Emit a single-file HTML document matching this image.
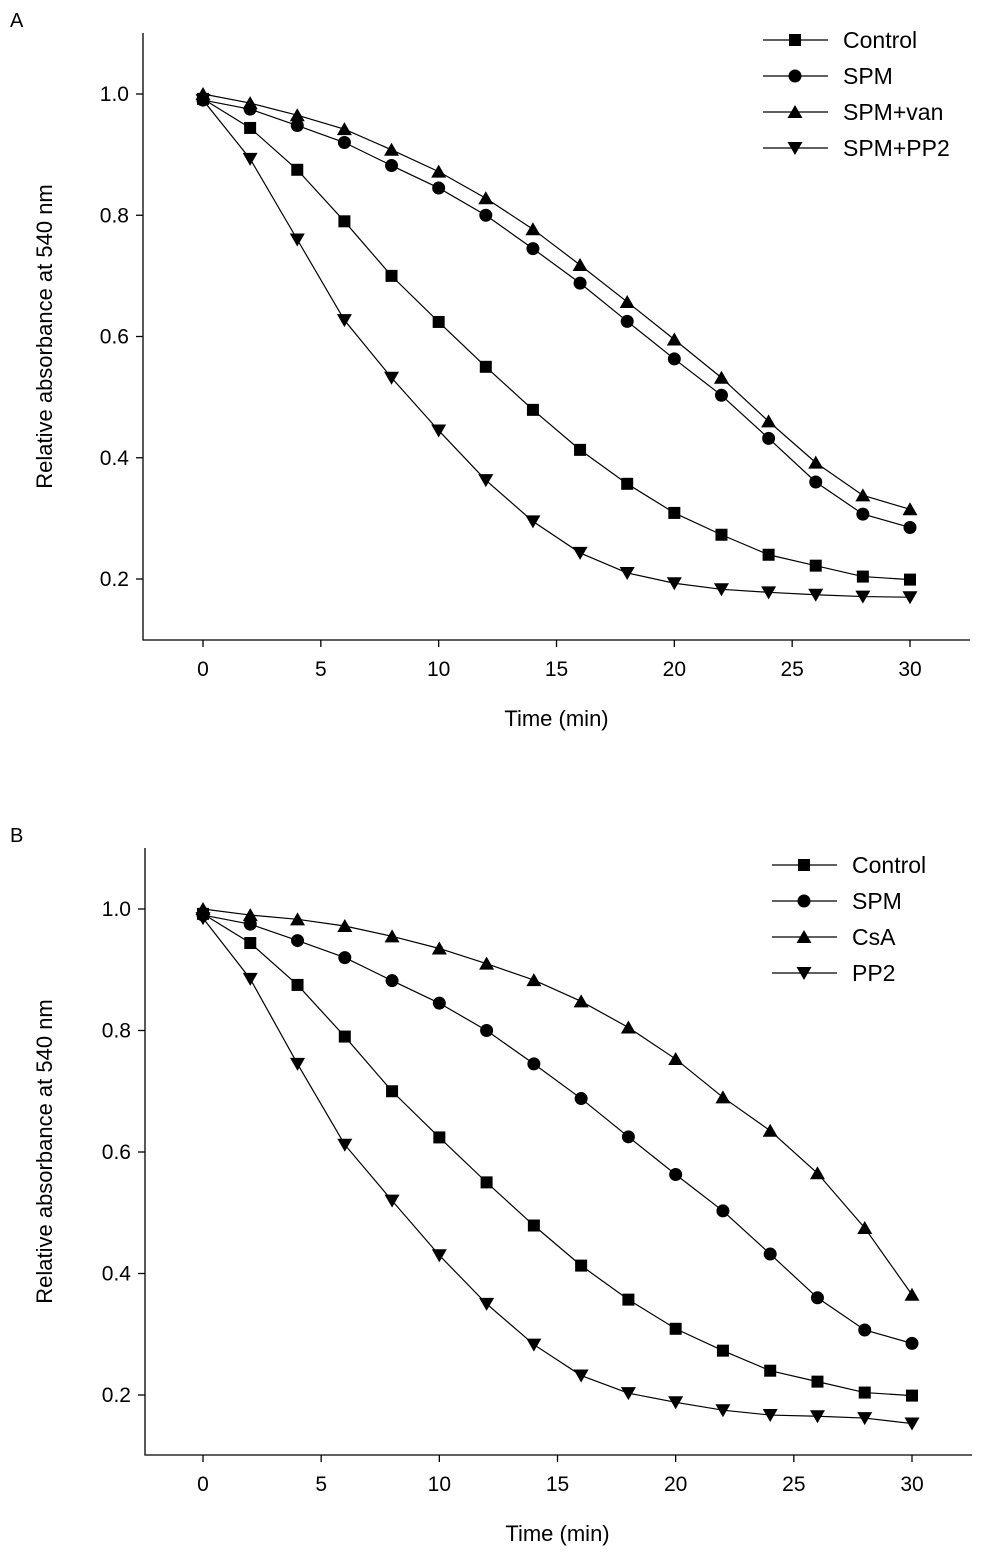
<!DOCTYPE html>
<html><head><meta charset="utf-8"><style>
body{margin:0;background:#fff;}
svg{display:block;font-family:"Liberation Sans",Arial,sans-serif;}
</style></head><body>
<svg id="chart" width="989" height="1560" viewBox="0 0 989 1560" xmlns="http://www.w3.org/2000/svg"></svg>
<script>
const times=[0,2,4,6,8,10,12,14,16,18,20,22,24,26,28,30];
const xTicks=[0,5,10,15,20,25,30];
const yTicks=[0.2,0.4,0.6,0.8,1.0];
const aControl=[0.992,0.944,0.875,0.79,0.70,0.624,0.55,0.479,0.413,0.357,0.309,0.273,0.240,0.222,0.204,0.199];
const aSPM=[0.99,0.975,0.948,0.92,0.882,0.845,0.80,0.745,0.688,0.625,0.563,0.503,0.432,0.36,0.307,0.285];
const aSPMvan=[1.0,0.985,0.965,0.942,0.908,0.872,0.828,0.777,0.718,0.657,0.595,0.532,0.46,0.392,0.338,0.315];
const aSPMPP2=[0.99,0.893,0.76,0.627,0.532,0.445,0.363,0.295,0.243,0.21,0.193,0.183,0.178,0.174,0.171,0.17];
const bControl=[0.992,0.944,0.875,0.79,0.70,0.624,0.55,0.479,0.413,0.357,0.309,0.273,0.240,0.222,0.204,0.199];
const bSPM=[0.99,0.975,0.948,0.92,0.882,0.845,0.80,0.745,0.688,0.625,0.563,0.503,0.432,0.36,0.307,0.285];
const bCsA=[1.0,0.99,0.983,0.972,0.955,0.935,0.91,0.883,0.848,0.805,0.753,0.69,0.635,0.565,0.475,0.365];
const bPP2=[0.985,0.885,0.745,0.612,0.52,0.43,0.35,0.283,0.232,0.203,0.188,0.175,0.167,0.165,0.162,0.153];
const aLabels=["Control","SPM","SPM+van","SPM+PP2"];
const bLabels=["Control","SPM","CsA","PP2"];

const NS="http://www.w3.org/2000/svg";
const svg=document.getElementById('chart');
function mk(tag,attrs,parent){const e=document.createElementNS(NS,tag);for(const k in attrs)e.setAttribute(k,attrs[k]);(parent||svg).appendChild(e);return e;}
function marker(g,type,x,y){
  let e;
  if(type==='square'){e=mk('rect',{x:x-6,y:y-6,width:12,height:12,fill:'#000'},g);}
  else if(type==='circle'){e=mk('circle',{cx:x,cy:y,r:6.5,fill:'#000'},g);}
  else if(type==='up'){e=mk('polygon',{points:`${x},${y-7} ${x-7.5},${y+6} ${x+7.5},${y+6}`,fill:'#000'},g);}
  else {e=mk('polygon',{points:`${x},${y+7} ${x-7.5},${y-6} ${x+7.5},${y-6}`,fill:'#000'},g);}
  
  
}
function panel(p){
  const g=mk('g',{});
  
  
  const X=v=>p.x0+(v/30)*(p.x30-p.x0);
  const Y=v=>p.y1+(1-v)/0.8*(p.y02-p.y1);
  const lab=mk('text',{x:10,y:p.top-6,'font-size':20},g);lab.textContent=p.id;
  
  const ax=mk('path',{d:`M${p.ax},${p.top} V${p.bot} H${p.right}`,stroke:'#000','stroke-width':1.3,fill:'none'},g);
  
  xTicks.forEach(t=>{
    mk('line',{x1:X(t),x2:X(t),y1:p.bot,y2:p.bot+7,stroke:'#000','stroke-width':1.3},g);
    const tx=mk('text',{x:X(t),y:p.bot+36,'font-size':21,'text-anchor':'middle'},g);tx.textContent=t;
    
  });
  yTicks.forEach(t=>{
    mk('line',{x1:p.ax-7,x2:p.ax,y1:Y(t),y2:Y(t),stroke:'#000','stroke-width':1.3},g);
    const tx=mk('text',{x:p.ax-14,y:Y(t)+7,'font-size':21,'text-anchor':'end'},g);tx.textContent=t.toFixed(1);
    
  });
  const xt=mk('text',{x:(p.x0+p.x30)/2+0,y:p.bot+86,'font-size':22,'text-anchor':'middle'},g);xt.textContent='Time (min)';
  
  const cy=(p.top+p.bot)/2;
  const yt=mk('text',{x:0,y:0,'font-size':22,'text-anchor':'middle',transform:`translate(52,${cy}) rotate(-90)`},g);yt.textContent='Relative absorbance at 540 nm';
  
  const types=['square','circle','up','down'];
  p.series.forEach((s,i)=>{
    const sg=mk('g',{},g);
    
    
    mk('polyline',{points:s.map((v,j)=>X(times[j])+','+Y(v)).join(' '),fill:'none',stroke:'#000','stroke-width':1.2},sg);
    s.forEach((v,j)=>marker(sg,types[i],X(times[j]),Y(v)));
    const ly=p.legY+i*36;
    const lg=mk('g',{},g);
    
    mk('line',{x1:p.legX,x2:p.legX+65,y1:ly,y2:ly,stroke:'#000','stroke-width':1.2},lg);
    marker(lg,types[i],p.legX+32,ly);
    const lt=mk('text',{x:p.legX+80,y:ly+8,'font-size':23},lg);lt.textContent=p.labels[i];
  });
}
panel({id:'A',ax:143,top:33,bot:640,right:970,x0:203,x30:910,y1:94,y02:579,legX:763,legY:40,labels:aLabels,series:[aControl,aSPM,aSPMvan,aSPMPP2]});
panel({id:'B',ax:145,top:848,bot:1455,right:972,x0:203,x30:912,y1:909,y02:1395,legX:772,legY:865,labels:bLabels,series:[bControl,bSPM,bCsA,bPP2]});
</script>
</body></html>
